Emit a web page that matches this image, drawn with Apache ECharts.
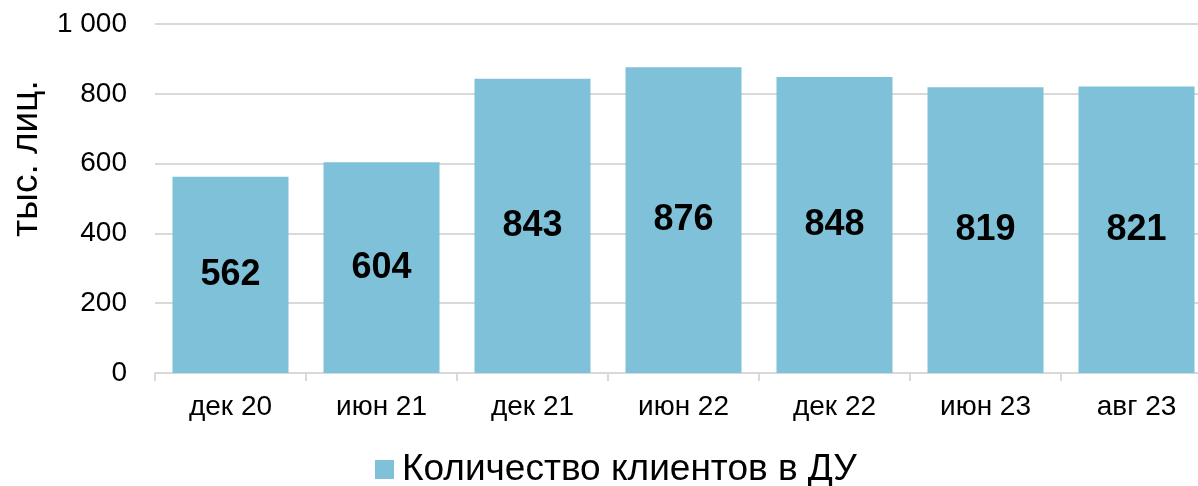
<!DOCTYPE html>
<html>
<head>
<meta charset="utf-8">
<script src="https://cdn.jsdelivr.net/npm/echarts@6/dist/echarts.min.js"></script>
<style>
	html, body { margin: 0; padding: 0; background: #fff; }
	#chart { width: 1198px; height: 486px; }
</style>
</head>
<body>
<div id="chart"></div>
<script>
// данные графика
var categories = ['дек 20', 'июн 21', 'дек 21', 'июн 22', 'дек 22', 'июн 23', 'авг 23'];
var clients = [562, 604, 843, 876, 848, 819, 821];
var seriesName = 'Количество клиентов в ДУ';
var axisName = 'тыс. лиц.';

var font = '"Liberation Sans", Arial, sans-serif';

var chart = echarts.init(document.getElementById('chart'));

var option = {
	animation: false,
	textStyle: { fontFamily: font },
	grid: {
		left: 155,
		right: -14,
		top: 24,
		bottom: 113,
		outerBoundsMode: 'none'
	},
	legend: {
		data: [seriesName],
		left: 370,
		top: 446,
		icon: 'rect',
		itemWidth: 19,
		itemHeight: 19,
		itemGap: 10,
		textStyle: { fontSize: 37, color: '#000', fontFamily: font, padding: [0, 0, 0, 3] }
	},
	xAxis: {
		type: 'category',
		data: categories,
		axisLine: { lineStyle: { color: '#d9d9d9', width: 2 } },
		axisTick: { show: true, length: 8, lineStyle: { color: '#d9d9d9', width: 2 } },
		axisLabel: { fontSize: 28, color: '#000', margin: 20, fontFamily: font }
	},
	yAxis: {
		type: 'value',
		min: 0,
		max: 1000,
		interval: 200,
		name: axisName,
		nameLocation: 'middle',
		nameGap: 110,
		// сдвиг подписи оси вверх
		nameTextStyle: { fontSize: 37, color: '#000', fontFamily: font, padding: [0, 0, 0, 80] },
		axisLine: { show: false },
		axisTick: { show: false },
		splitLine: { lineStyle: { color: '#d9d9d9', width: 2 } },
		axisLabel: {
			fontSize: 28,
			color: '#000',
			margin: 28,
			fontFamily: font,
			formatter: function (v) {
				return String(v).replace(/\B(?=(\d{3})+(?!\d))/g, ' ');
			}
		}
	},
	series: [{
		name: seriesName,
		type: 'bar',
		data: clients,
		barWidth: 116,
		itemStyle: { color: '#7fc1d8' },
		label: {
			show: true,
			position: 'inside',
			fontSize: 36,
			fontWeight: 'bold',
			color: '#000',
			fontFamily: font
		}
	}]
};

chart.setOption(option);
</script>
</body>
</html>
